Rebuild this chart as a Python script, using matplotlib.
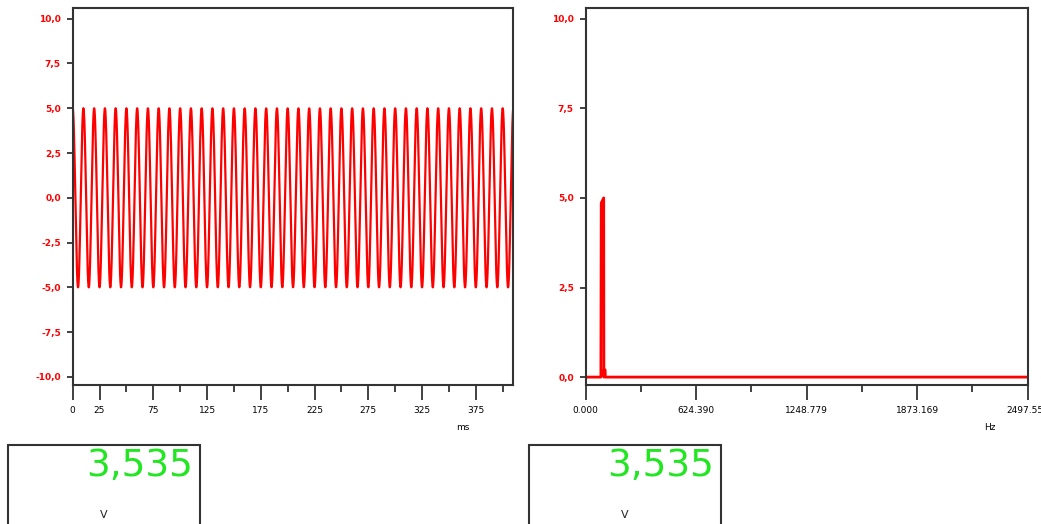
import numpy as np
import matplotlib.pyplot as plt
from matplotlib.patches import Rectangle

# signal: 100 Hz sine, 5 V peak, 410 ms record
amplitude = 5.0
signal_freq = 100.0
duration_ms = 409.6
n_samples = 2048

# spectrum points (Hz, V)
spec_freq = [0.0, 86.0, 88.0, 102.0, 103.0, 104.0, 110.0, 111.0, 2497.559]
spec_mag = [0.0, 0.0, 4.86, 5.0, 0.0, 0.2, 0.2, 0.0, 0.0]

rms_text = '3,535'
unit_text = 'V'

time_major = [0, 25, 75, 125, 175, 225, 275, 325, 375]
time_minor = [50, 100, 150, 200, 250, 300, 350, 400]
time_yticks = [-10, -7.5, -5, -2.5, 0, 2.5, 5, 7.5, 10]
time_ylabels = ['-10,0', '-7,5', '-5,0', '-2,5', '0,0', '2,5', '5,0', '7,5', '10,0']

freq_major = [0.0, 624.390, 1248.779, 1873.169, 2497.559]
freq_labels = ['0.000', '624.390', '1248.779', '1873.169', '2497.559']
freq_minor = [312.195, 936.585, 1560.974, 2185.364]
freq_yticks = [0, 2.5, 5, 7.5, 10]
freq_ylabels = ['0,0', '2,5', '5,0', '7,5', '10,0']

t = np.linspace(0, duration_ms, n_samples)
wave = amplitude * np.cos(2 * np.pi * signal_freq * t / 1000.0)

fig = plt.figure(figsize=(10.41, 5.24), dpi=100)
plt.rcParams['font.family'] = ['DejaVu Sans']

ax1 = fig.add_axes([0.0698, 0.2653, 0.4230, 0.7195])
ax2 = fig.add_axes([0.5626, 0.2653, 0.4246, 0.7195])

ax1.plot(t, wave, c='#ff0000', lw=1.6)
ax1.set_xlim(0, duration_ms)
ax1.set_ylim(-10.45, 10.6)
ax1.set_xticks(time_major)
ax1.set_xticklabels([str(v) for v in time_major])
ax1.set_xticks(time_minor, minor=True)
ax1.set_yticks(time_yticks)
ax1.set_yticklabels(time_ylabels)

ax2.plot(spec_freq, spec_mag, c='#ff0000', lw=2.0)
ax2.set_xlim(0, 2497.559)
ax2.set_ylim(-0.22, 10.3)
ax2.set_xticks(freq_major)
ax2.set_xticklabels(freq_labels)
ax2.set_xticks(freq_minor, minor=True)
ax2.set_yticks(freq_yticks)
ax2.set_yticklabels(freq_ylabels)

for ax in (ax1, ax2):
    for s in ax.spines.values():
        s.set_color('#333333')
        s.set_linewidth(1.5)
    ax.tick_params(axis='x', which='major', direction='out', length=11, width=1.3,
                   color='#333333', labelsize=6.5, pad=4)
    ax.tick_params(axis='x', which='minor', direction='out', length=5, width=1.3,
                   color='#333333')
    ax.tick_params(axis='y', direction='out', length=4.5, width=1.3,
                   color='#333333', labelsize=6.5, labelcolor='#ff0000', pad=4)
    for lab in ax.get_yticklabels():
        lab.set_fontweight('bold')

ax1.text(463 / 1041, 1 - 428 / 524, 'ms', transform=fig.transFigure,
         ha='center', va='center', fontsize=6.5)
ax2.text(990 / 1041, 1 - 428 / 524, 'Hz', transform=fig.transFigure,
         ha='center', va='center', fontsize=6.5)

# readout boxes
for x0, x1 in [(8, 200), (529, 721)]:
    fig.patches.append(Rectangle((x0 / 1041, -0.02), (x1 - x0) / 1041,
                                 (524 - 445) / 524 + 0.02, transform=fig.transFigure,
                                 fill=False, ec='#333333', lw=1.5))
    fig.text((x1 - 7) / 1041, 1 - 466 / 524, rms_text, ha='right', va='center',
             fontsize=27, color='#22e622', family=['DejaVu Sans'])
    fig.text((x0 + x1) / 2 / 1041, 1 - 515 / 524, unit_text, ha='center',
             va='center', fontsize=8, color='#222222')

plt.savefig('out.png', dpi=100)
